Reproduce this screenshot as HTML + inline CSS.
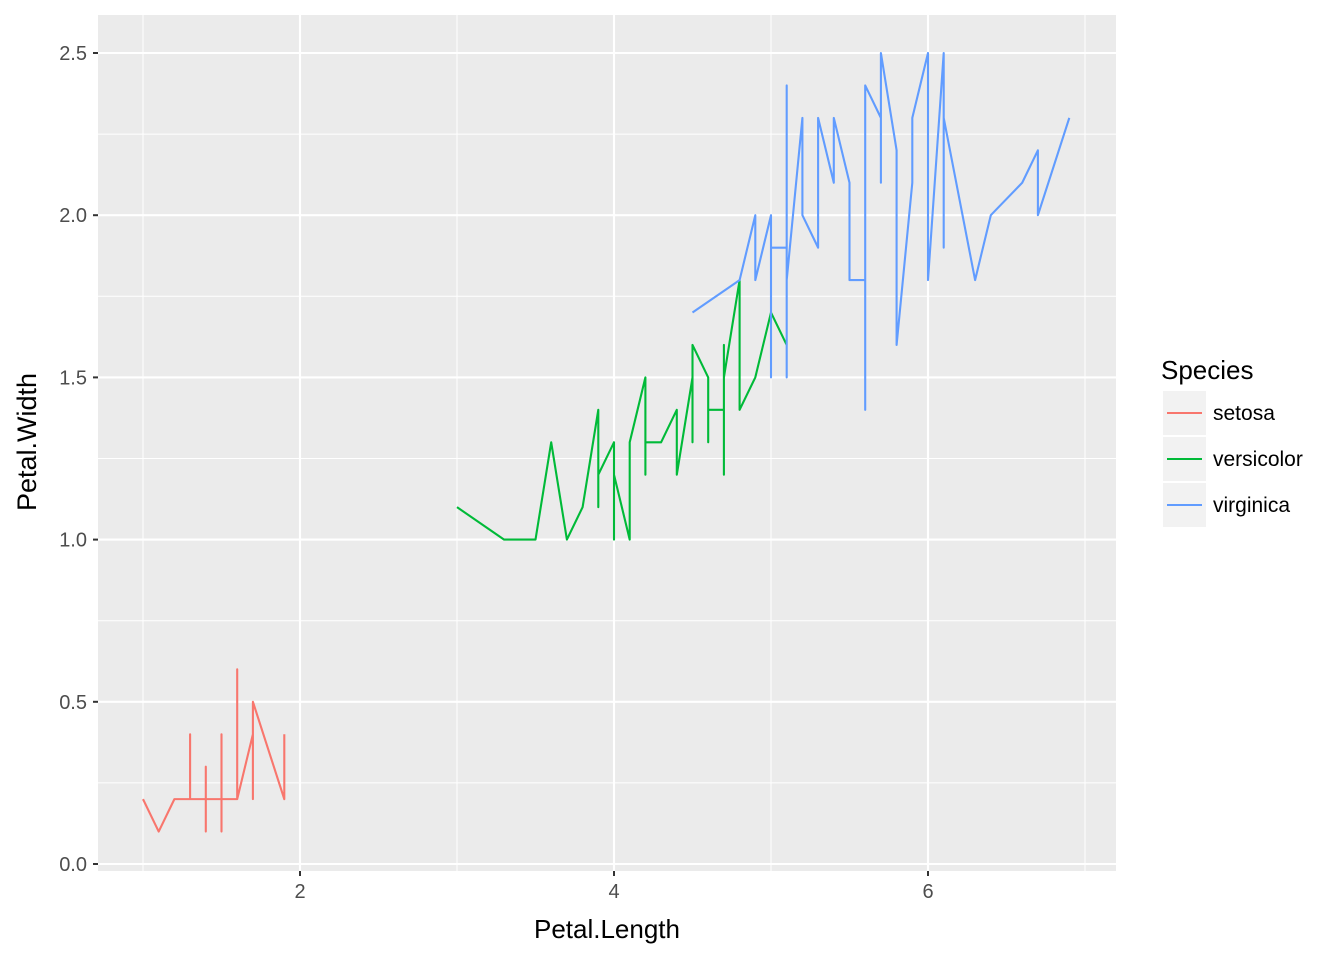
<!DOCTYPE html>
<html><head><meta charset="utf-8"><style>
body{margin:0;background:#fff;}
svg text{font-family:"Liberation Sans",sans-serif;}
</style></head><body>
<svg id="chart" width="1344" height="960" xmlns="http://www.w3.org/2000/svg">
<rect width="1344" height="960" fill="#fff"/>
<rect x="98" y="15" width="1018" height="856" fill="#EBEBEB"/>
<g id="grid"></g><g id="lines"></g><g id="axes"></g>
<text x="607" y="938" font-size="26" text-anchor="middle" fill="#000">Petal.Length</text>
<text transform="translate(36,442) rotate(-90)" font-size="27" text-anchor="middle" fill="#000">Petal.Width</text>
<g>
<text x="1161" y="379" font-size="26" fill="#000">Species</text>
<g id="legend-keys"></g>
</g>
</svg>
<script>
const speciesNames=["setosa","versicolor","virginica"];
const speciesColors=["#F8766D","#00BA38","#619CFF"];
const petalLength=[1.4,1.4,1.3,1.5,1.4,1.7,1.4,1.5,1.4,1.5,1.5,1.6,1.4,1.1,1.2,1.5,1.3,1.4,1.7,1.5,1.7,1.5,1.0,1.7,1.9,1.6,1.6,1.5,1.4,1.6,1.6,1.5,1.5,1.4,1.5,1.2,1.3,1.4,1.3,1.5,1.3,1.3,1.3,1.6,1.9,1.4,1.6,1.4,1.5,1.4,
4.7,4.5,4.9,4.0,4.6,4.5,4.7,3.3,4.6,3.9,3.5,4.2,4.0,4.7,3.6,4.4,4.5,4.1,4.5,3.9,4.8,4.0,4.9,4.7,4.3,4.4,4.8,5.0,4.5,3.5,3.8,3.7,3.9,5.1,4.5,4.5,4.7,4.4,4.1,4.0,4.4,4.6,4.0,3.3,4.2,4.2,4.2,4.3,3.0,4.1,
6.0,5.1,5.9,5.6,5.8,6.6,4.5,6.3,5.8,6.1,5.1,5.3,5.5,5.0,5.1,5.3,5.5,6.7,6.9,5.0,5.7,4.9,6.7,4.9,5.7,6.0,4.8,4.9,5.6,5.8,6.1,6.4,5.6,5.1,5.6,6.1,5.6,5.5,4.8,5.4,5.6,5.1,5.1,5.9,5.7,5.2,5.0,5.2,5.4,5.1];
const petalWidth=[0.2,0.2,0.2,0.2,0.2,0.4,0.3,0.2,0.2,0.1,0.2,0.2,0.1,0.1,0.2,0.4,0.4,0.3,0.3,0.3,0.2,0.4,0.2,0.5,0.2,0.2,0.4,0.2,0.2,0.2,0.2,0.4,0.1,0.2,0.2,0.2,0.2,0.1,0.2,0.2,0.3,0.3,0.2,0.6,0.4,0.3,0.2,0.2,0.2,0.2,
1.4,1.5,1.5,1.3,1.5,1.3,1.6,1.0,1.3,1.4,1.0,1.5,1.0,1.4,1.3,1.4,1.5,1.0,1.5,1.1,1.8,1.3,1.5,1.2,1.3,1.4,1.4,1.7,1.5,1.0,1.1,1.0,1.2,1.6,1.5,1.6,1.5,1.3,1.3,1.3,1.2,1.4,1.2,1.0,1.3,1.2,1.3,1.3,1.1,1.3,
2.5,1.9,2.1,1.8,2.2,2.1,1.7,1.8,1.8,2.5,2.0,1.9,2.1,2.0,2.4,2.3,1.8,2.2,2.3,1.5,2.3,2.0,2.0,1.8,2.1,1.8,1.8,1.8,2.1,1.6,1.9,2.0,2.2,1.5,1.4,2.3,2.4,1.8,1.8,2.1,2.4,2.3,1.9,2.3,2.5,2.3,1.9,2.0,2.3,1.8];
const xTicks=[2,4,6];
const yTicks=[0,0.5,1,1.5,2,2.5];
const yTickLabels=["0.0","0.5","1.0","1.5","2.0","2.5"];
const xMinor=[1,3,5,7];
const yMinor=[0.25,0.75,1.25,1.75,2.25];

const NS="http://www.w3.org/2000/svg";
const X=v=>300+(v-2)*157;
const Y=v=>864-v*324.4;
function mk(parent,tag,attrs){const e=document.createElementNS(NS,tag);for(const k in attrs)e.setAttribute(k,attrs[k]);parent.appendChild(e);return e;}
const grid=document.getElementById('grid'),axes=document.getElementById('axes'),lines=document.getElementById('lines');
xMinor.forEach(v=>{const e=mk(grid,'line',{x1:X(v),x2:X(v),y1:15,y2:871,stroke:'#fff','stroke-width':1});

});
yMinor.forEach(v=>{const e=mk(grid,'line',{x1:98,x2:1116,y1:Y(v),y2:Y(v),stroke:'#fff','stroke-width':1});

});
xTicks.forEach(v=>{const e=mk(grid,'line',{x1:X(v),x2:X(v),y1:15,y2:871,stroke:'#fff','stroke-width':2.1});


const t=mk(axes,'line',{x1:X(v),x2:X(v),y1:871,y2:876,stroke:'#333','stroke-width':2});


const l=mk(axes,'text',{x:X(v),y:898,'font-size':20,'text-anchor':'middle',fill:'#4D4D4D'});l.textContent=v;

});
yTicks.forEach((v,i)=>{const e=mk(grid,'line',{x1:98,x2:1116,y1:Y(v),y2:Y(v),stroke:'#fff','stroke-width':2.1});


const t=mk(axes,'line',{x1:93,x2:98,y1:Y(v),y2:Y(v),stroke:'#333','stroke-width':2});


const l=mk(axes,'text',{x:87,y:Y(v)+7,'font-size':20,'text-anchor':'end',fill:'#4D4D4D'});l.textContent=yTickLabels[i];

});
speciesNames.forEach((s,si)=>{
  const idx=[];for(let i=si*50;i<si*50+50;i++)idx.push(i);
  idx.sort((a,b)=>petalLength[a]-petalLength[b]);
  const pts=idx.map(i=>X(petalLength[i]).toFixed(2)+','+Y(petalWidth[i]).toFixed(2)).join(' ');
  const p=mk(lines,'polyline',{points:pts,fill:'none',stroke:speciesColors[si],'stroke-width':2.1,'stroke-linejoin':'round'});
  
  
  const lk=document.getElementById('legend-keys');
  const y0=391+si*46;
  const r=mk(lk,'rect',{x:1163,y:y0,width:43,height:44,fill:'#F2F2F2'});
  
  
  mk(lk,'line',{x1:1167,x2:1202,y1:y0+22,y2:y0+22,stroke:speciesColors[si],'stroke-width':2.1});
  const t=mk(lk,'text',{x:1213,y:y0+29,'font-size':21,fill:'#000'});t.textContent=s;
  
  
});
</script>
</body></html>
